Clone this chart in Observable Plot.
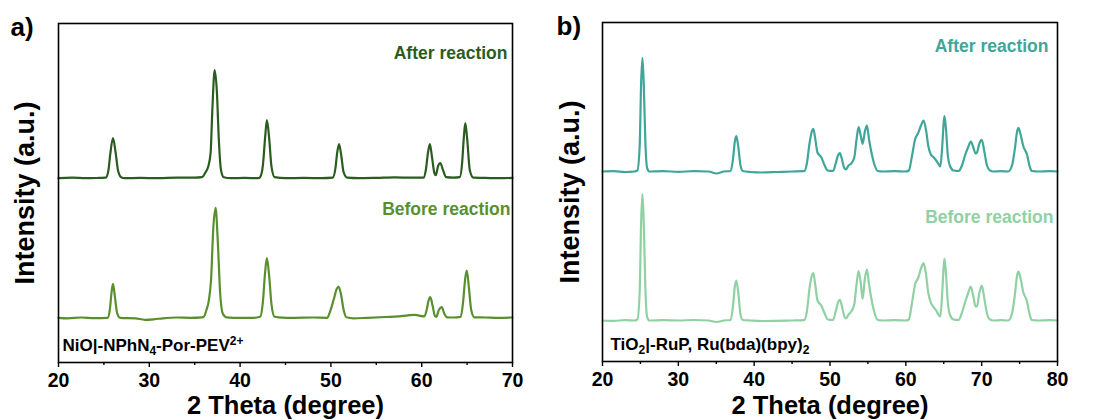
<!DOCTYPE html>
<html><head><meta charset="utf-8">
<script src="https://cdn.jsdelivr.net/npm/d3@7"></script>
<script src="https://cdn.jsdelivr.net/npm/@observablehq/plot@0.6"></script>
<style>
body{margin:0;background:#fff;}
#wrap{position:relative;width:1097px;height:420px;display:flex;}
</style></head><body><div id="wrap"></div>
<script>
// ---------- DATA (2θ in degrees, intensity in a.u.) ----------
const panelLetters = ["a)", "b)"];
const seriesNames = ["After reaction", "Before reaction"];
const sampleA = "NiO|-NPhN4-Por-PEV2+";
const sampleB = "TiO2|-RuP, Ru(bda)(bpy)2";
const xTicksA = [20, 30, 40, 50, 60, 70];
const xTicksB = [20, 30, 40, 50, 60, 70, 80];
const xLabel = "2 Theta (degree)";
const yLabel = "Intensity (a.u.)";

const aAfter = [[20,0],[21.5,0.5],[23,0],[24.5,0.3],[25.2,0.5],[25.5,8],[25.7,24],[26.0,40],[26.3,25],[26.55,8],[26.9,1],[27.3,0],[29,0.3],[31,0],[33,0.5],[35,0.5],[35.8,1],[36.2,6],[36.5,12],[36.75,25],[36.95,70],[37.2,108],[37.45,85],[37.65,40],[37.9,8],[38.2,1],[39,0],[40.5,0.3],[42,0],[42.2,1],[42.5,12],[42.75,40],[42.95,58],[43.2,40],[43.45,12],[43.8,1],[45,0],[47,0.3],[49,0],[50.2,0.5],[50.5,10],[50.7,26],[50.9,34],[51.15,22],[51.4,6],[51.8,0.5],[53,0],[55,0.3],[57,0.8],[59,0.5],[60.2,0.5],[60.45,8],[60.7,26],[60.9,34],[61.15,20],[61.4,5],[61.55,3],[61.8,12],[62.05,15],[62.35,8],[62.7,1],[63.5,0.5],[64.2,1],[64.45,15],[64.65,42],[64.8,55],[65.0,40],[65.3,8],[65.7,0.5],[67,0.3],[68.5,0],[70,0.3]];

const aBefore = [[20,0],[21,-0.5],[22.5,0.3],[24,-0.3],[25.4,0],[25.65,8],[25.85,26],[26.0,34],[26.2,22],[26.45,5],[26.8,0],[28.5,-0.5],[29.5,-2],[30.5,-1.5],[31.5,-0.5],[33,0.3],[34.5,0],[35.8,0.5],[36.0,1],[36.3,8],[36.55,17],[36.8,38],[37.05,90],[37.3,110],[37.55,75],[37.8,25],[38.1,4],[38.5,0.5],[40,0],[41.5,0],[42.2,1],[42.5,15],[42.75,45],[42.95,59.7],[43.2,42],[43.45,14],[43.8,1],[44.2,0.5],[46,0],[48,0.3],[49.6,0],[49.9,6],[50.3,18],[50.65,29],[50.85,31.3],[51.1,24],[51.4,8],[51.7,0.5],[52.5,-0.5],[54,0],[56,0.8],[57.5,1.5],[58.5,2.5],[59.3,3],[59.8,2],[60.3,1.5],[60.55,8],[60.75,17],[60.95,20.7],[61.2,12],[61.45,2],[61.6,1],[61.9,8],[62.2,10.7],[62.5,4],[62.8,0.5],[63.5,0.3],[64.3,1],[64.55,15],[64.8,40],[64.97,47.3],[65.2,30],[65.45,8],[65.8,0.5],[67,0.3],[68.5,0],[70,0.3]];

const bAfter = [[20,0],[21.5,0.3],[23,-0.5],[24.2,0],[24.6,1],[24.9,25],[25.1,90],[25.27,113.7],[25.45,85],[25.65,30],[25.9,3],[26.2,0],[28,0.3],[30,-0.3],[32,0.3],[34,0],[35,-2],[36,0],[36.9,0.5],[37.2,12],[37.45,30],[37.65,35.3],[37.9,25],[38.2,6],[38.5,0.5],[39.5,-0.5],[41,-1],[43,-0.5],[45,0],[46.6,0.3],[46.95,8],[47.3,28],[47.6,40],[47.8,42.7],[48.05,33],[48.35,19],[48.85,14.3],[49.3,6],[49.7,1],[50.4,0.5],[50.75,8],[51.05,16],[51.3,18.3],[51.55,13],[51.85,4],[52.1,2],[52.45,6],[52.8,8],[53.2,14],[53.5,32],[53.77,44.3],[54.05,36],[54.3,27.7],[54.6,40],[54.87,46],[55.15,32],[55.5,17.7],[55.9,6],[56.3,0.5],[57,0],[58.5,0.3],[60,0],[60.4,1],[60.8,15],[61.24,32.7],[61.6,38],[62.0,46],[62.34,51],[62.65,42],[62.95,26],[63.3,17],[63.65,14.3],[64.0,11],[64.3,7.7],[64.55,5],[64.8,25],[65.0,50],[65.1,55.3],[65.3,42],[65.55,15],[65.85,5],[66.3,1],[66.95,0.5],[67.4,6],[67.8,16],[68.2,24],[68.57,30],[68.9,24],[69.2,18],[69.4,19.3],[69.7,28],[70.02,31.7],[70.35,20],[70.7,6],[71.1,1],[71.6,0],[72.5,0.3],[73.5,0],[74.0,6],[74.4,24],[74.65,39],[74.85,43.7],[75.1,38],[75.5,25],[75.95,17.7],[76.3,6],[76.6,0.5],[77.5,0],[79,0.3],[80,0]];

const bBefore = [[20,0],[21.5,-0.3],[23,0.3],[24.2,0],[24.6,1],[24.9,28],[25.1,100],[25.27,126.7],[25.45,95],[25.65,33],[25.9,3],[26.2,0],[28,0.3],[30,0],[32,0.5],[34,0],[35,-1.5],[36,0],[36.9,0.5],[37.2,14],[37.45,34],[37.65,40],[37.9,28],[38.2,6],[38.5,0.5],[39.5,0],[41,-0.5],[43,-0.3],[45,0],[46.6,0.3],[46.95,9],[47.3,32],[47.6,45],[47.8,47.3],[48.05,36],[48.35,20],[48.85,15],[49.3,7],[49.7,1],[50.4,0.5],[50.75,9],[51.05,18],[51.3,20.7],[51.55,15],[51.85,5],[52.1,2],[52.45,6],[52.8,9],[53.2,16],[53.5,36],[53.77,49.3],[54.05,38],[54.3,21.7],[54.6,42],[54.87,51],[55.15,36],[55.5,20],[55.9,7],[56.3,0.5],[57,0],[58.5,0.3],[60,0],[60.4,1],[60.8,17],[61.24,36.7],[61.6,42],[62.0,52],[62.34,57.3],[62.65,47],[62.95,28],[63.3,18],[63.65,13.3],[64.0,10],[64.3,6],[64.55,4],[64.8,28],[65.0,55],[65.1,61.7],[65.3,46],[65.55,17],[65.85,5],[66.3,1],[66.95,0.5],[67.4,8],[67.8,18],[68.2,27],[68.57,34],[68.9,24],[69.2,14],[69.4,14.5],[69.7,28],[70.02,35],[70.35,22],[70.7,7],[71.1,1],[71.6,0],[72.5,0.3],[73.5,0],[74.0,7],[74.4,27],[74.65,44],[74.85,49],[75.1,43],[75.5,28],[75.95,20],[76.3,7],[76.6,0.5],[77.5,0],[79,0.3],[80,0]];

// vertical stacking offset of the "after" pattern (a.u.)
const offsetA = 139.6;
const offsetB = 149;

// ---------- DRAWING ----------
const FONT = "'Liberation Sans', Arial, Helvetica, sans-serif";

function richify(svg, plain, parts) {
  d3.select(svg).selectAll("text").filter(function(){ return this.textContent === plain; }).each(function(){
    const t = d3.select(this);
    t.text(null);
    let shift = 0;
    for (const [s, kind] of parts) {
      const target = kind === "sub" ? 4 : kind === "sup" ? -6 : 0;
      const ts = t.append("tspan").text(s).attr("dy", target - shift);
      shift = target;
      if (kind) ts.attr("font-size", "12px");
    }
  });
}

function panel(o) {
  const minor = [];
  for (let i = 0; i < o.ticks.length - 1; i++) minor.push((o.ticks[i] + o.ticks[i+1]) / 2);
  const svg = Plot.plot({
    width: o.width, height: 420,
    marginLeft: o.ml, marginRight: o.mr, marginTop: o.mt, marginBottom: o.mb,
    style: {fontFamily: FONT, background: "white", overflow: "visible"},
    x: {domain: o.xDomain},
    y: {domain: o.yDomain, axis: null},
    marks: [
      Plot.line(o.before, {x: d => d[0], y: d => d[1], stroke: o.cBefore, strokeWidth: 2.2, curve: "monotone-x"}),
      Plot.line(o.after, {x: d => d[0], y: d => d[1] + o.offset, stroke: o.cAfter, strokeWidth: 2.2, curve: "monotone-x"}),
      Plot.frame({stroke: "black", strokeWidth: 1.6}),
      Plot.axisX({ticks: o.ticks, tickSize: 5, tickPadding: 6, fontSize: 19.5, fontWeight: "bold", label: null, stroke: "black", strokeWidth: 1.4, fill: "black"}),
      Plot.axisX({ticks: minor, tickSize: 3, text: null, label: null, strokeWidth: 1.4}),
      Plot.text([xLabel], {frameAnchor: "bottom", lineAnchor: "bottom", dy: o.xlabDy, fontSize: 25.5, fontWeight: "bold", fill: "black"}),
      Plot.text([yLabel], {frameAnchor: "left", textAnchor: "middle", rotate: -90, dx: o.ylabDx, fontSize: 27, fontWeight: "bold", fill: "black"}),
      Plot.text([o.letter], {frameAnchor: "top-left", textAnchor: "start", lineAnchor: "bottom", dx: o.letterDx, dy: 12, fontSize: 26, fontWeight: "bold", fill: "black"}),
      Plot.text([seriesNames[0]], {frameAnchor: "top-right", textAnchor: "end", lineAnchor: "bottom", dx: o.afterDx, dy: o.afterDy, fontSize: 17.5, fontWeight: "bold", fill: o.cAfter}),
      Plot.text([seriesNames[1]], {frameAnchor: "top-right", textAnchor: "end", lineAnchor: "bottom", dx: o.beforeDx, dy: o.beforeDy, fontSize: 17.5, fontWeight: "bold", fill: o.cBefore}),
      Plot.text([o.sample], {frameAnchor: "bottom-left", textAnchor: "start", lineAnchor: "bottom", dx: o.sampleDx, dy: -12, fontSize: 17, fontWeight: "bold", fill: "black"})
    ]
  });
  richify(svg, o.sample, o.sampleParts);
  return svg;
}

const wrap = document.getElementById("wrap");
wrap.appendChild(panel({
  width: 548, ml: 58, mr: 36, mt: 23, mb: 58,
  xDomain: [20, 70], yDomain: [-44.7, 294.3], ticks: xTicksA,
  before: aBefore, after: aAfter, offset: offsetA,
  cAfter: "#2b5c1f", cBefore: "#5a8f2e",
  letter: panelLetters[0], letterDx: -48,
  xlabDy: 51, ylabDx: -33,
  afterDx: -5, afterDy: 35, beforeDx: -2, beforeDy: 191,
  sample: sampleA, sampleDx: 4,
  sampleParts: [["NiO|-NPhN", 0], ["4", "sub"], ["-Por-PEV", 0], ["2+", "sup"]]
}));
wrap.appendChild(panel({
  width: 549, ml: 54, mr: 40, mt: 22, mb: 59,
  xDomain: [20, 80], yDomain: [-41, 298], ticks: xTicksB,
  before: bBefore, after: bAfter, offset: offsetB,
  cAfter: "#3fa699", cBefore: "#90d1a3",
  letter: panelLetters[1], letterDx: -46,
  xlabDy: 52, ylabDx: -32,
  afterDx: -9, afterDy: 29, beforeDx: -4, beforeDy: 200,
  sample: sampleB, sampleDx: 8,
  sampleParts: [["TiO", 0], ["2", "sub"], ["|-RuP, Ru(bda)(bpy)", 0], ["2", "sub"]]
}));
</script>
</body></html>
